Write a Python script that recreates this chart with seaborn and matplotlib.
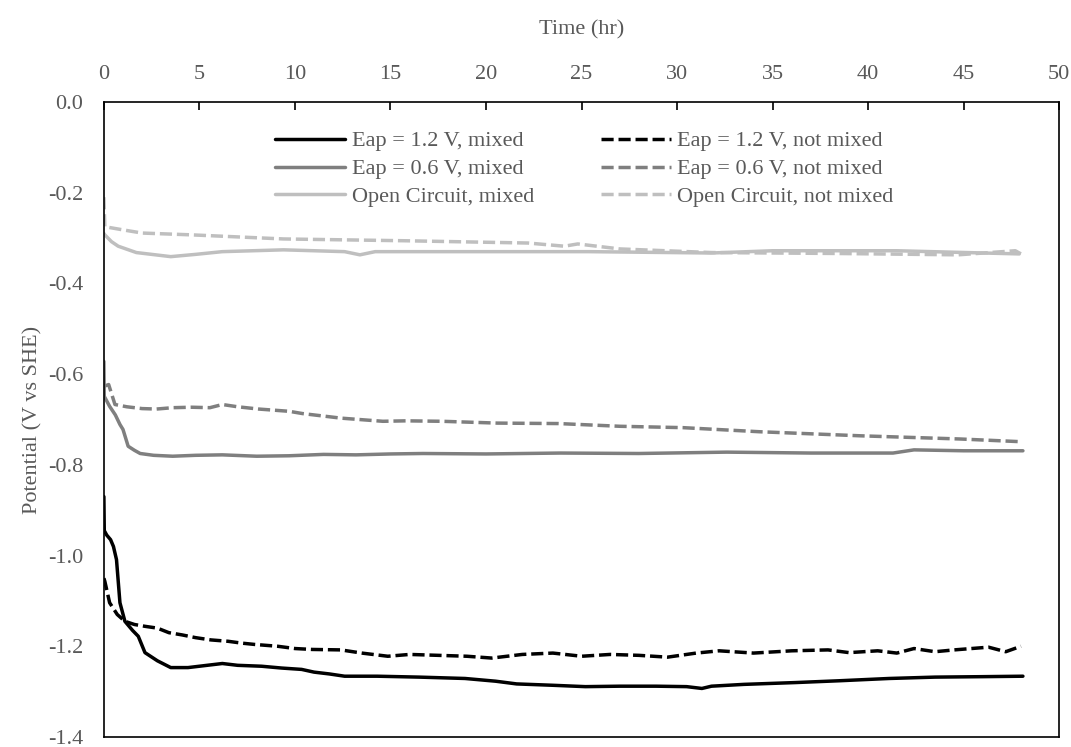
import pandas as pd
import seaborn as sns
import matplotlib.pyplot as plt
from matplotlib.ticker import FormatStrFormatter

# values (time in hr, potential in V vs SHE)
t_12_mixed = [0, 0.02, 0.15, 0.35, 0.5, 0.66, 0.84, 1.1, 1.5, 1.8, 2.15, 2.8, 3.5, 4.4, 5.2, 6.2, 7.0,
              8.25, 9.3, 10.35, 11.0, 11.8, 12.6, 14.3, 16.5, 18.9, 20.5, 21.6, 23.5, 25.2, 27.0, 28.9,
              30.5, 31.3, 31.8, 33.5, 36.2, 38.5, 41.1, 43.5, 46.0, 48.1]
v_12_mixed = [-0.87, -0.945, -0.955, -0.965, -0.98, -1.009, -1.104, -1.145, -1.165, -1.178, -1.214,
              -1.232, -1.247, -1.247, -1.243, -1.238, -1.242, -1.244, -1.248, -1.251, -1.257, -1.261,
              -1.266, -1.266, -1.268, -1.271, -1.277, -1.283, -1.286, -1.289, -1.288, -1.288, -1.289,
              -1.293, -1.288, -1.284, -1.280, -1.276, -1.271, -1.268, -1.267, -1.266]

t_12_not = [0, 0.05, 0.3, 0.7, 1.1, 1.6, 2.15, 2.8, 3.4, 4.1, 4.8, 5.6, 6.5, 7.2, 7.9, 9.1, 10.0, 10.9,
            12.4, 13.5, 14.86, 16.0, 17.5, 19.0, 20.3, 21.9, 23.5, 25.0, 26.5, 28.0, 29.5, 31.0, 32.2,
            34.0, 36.0, 37.9, 39.0, 40.5, 41.5, 42.4, 43.5, 44.5, 46.3, 47.2, 48.0]
v_12_not = [-1.05, -1.057, -1.104, -1.13, -1.145, -1.152, -1.156, -1.16, -1.17, -1.175, -1.181, -1.186,
            -1.189, -1.193, -1.196, -1.2, -1.205, -1.207, -1.208, -1.215, -1.222, -1.218, -1.22, -1.222,
            -1.226, -1.218, -1.215, -1.222, -1.218, -1.22, -1.224, -1.215, -1.21, -1.215, -1.21, -1.208,
            -1.214, -1.21, -1.215, -1.205, -1.212, -1.208, -1.202, -1.212, -1.2]

t_06_mixed = [0, 0.02, 0.3, 0.6, 0.84, 1.0, 1.27, 1.6, 1.9, 2.6, 3.6, 4.8, 6.2, 8.0, 9.7, 11.5, 13.2,
              15.0, 16.7, 20.0, 23.9, 28.0, 32.6, 37.0, 41.3, 42.4, 45.0, 48.1]
v_06_mixed = [-0.572, -0.649, -0.671, -0.69, -0.711, -0.722, -0.759, -0.768, -0.775, -0.779, -0.781,
              -0.779, -0.778, -0.781, -0.78, -0.777, -0.778, -0.776, -0.775, -0.776, -0.774, -0.775,
              -0.772, -0.774, -0.774, -0.767, -0.769, -0.769]

t_06_not = [0, 0.25, 0.58, 1.2, 2.0, 2.75, 3.6, 4.6, 5.55, 6.2, 7.0, 8.1, 9.7, 10.4, 12.4, 14.6, 15.8,
            17.7, 20.6, 23.8, 27.0, 30.3, 34.3, 39.6, 44.8, 48.0]
v_06_not = [-0.627, -0.623, -0.667, -0.672, -0.676, -0.677, -0.674, -0.673, -0.674, -0.667, -0.672,
            -0.677, -0.682, -0.687, -0.697, -0.704, -0.703, -0.704, -0.708, -0.709, -0.715, -0.718,
            -0.727, -0.736, -0.743, -0.749]

t_oc_mixed = [0, 0.05, 0.4, 0.75, 1.7, 3.5, 4.8, 6.2, 9.4, 12.6, 13.4, 14.2, 19.0, 25.4, 31.8, 35.0,
              41.5, 47.9]
v_oc_mixed = [-0.29, -0.293, -0.308, -0.318, -0.332, -0.341, -0.336, -0.330, -0.326, -0.330, -0.337,
              -0.330, -0.330, -0.330, -0.333, -0.328, -0.328, -0.335]

t_oc_not = [0, 0.05, 1.0, 2.0, 4.6, 9.4, 15.8, 22.2, 24.1, 24.8, 27.0, 31.8, 38.3, 44.7, 47.7, 48.0]
v_oc_not = [-0.21, -0.275, -0.282, -0.289, -0.293, -0.302, -0.306, -0.311, -0.318, -0.313, -0.324,
            -0.332, -0.334, -0.337, -0.328, -0.335]

labels = ["Eap = 1.2 V, mixed", "Eap = 0.6 V, mixed", "Open Circuit, mixed",
          "Eap = 1.2 V, not mixed", "Eap = 0.6 V, not mixed", "Open Circuit, not mixed"]
series = [(t_12_mixed, v_12_mixed), (t_06_mixed, v_06_mixed), (t_oc_mixed, v_oc_mixed),
          (t_12_not, v_12_not), (t_06_not, v_06_not), (t_oc_not, v_oc_not)]

frames = []
for lab, (t, v) in zip(labels, series):
    frames.append(pd.DataFrame({"Time": t, "Potential": v, "Series": lab}))
df = pd.concat(frames, ignore_index=True)

palette = {labels[0]: "#000000", labels[1]: "#7f7f7f", labels[2]: "#bfbfbf",
           labels[3]: "#000000", labels[4]: "#7f7f7f", labels[5]: "#bfbfbf"}
dashes = {labels[0]: "", labels[1]: "", labels[2]: "",
          labels[3]: (3.5, 1.4), labels[4]: (3.5, 1.4), labels[5]: (3.5, 1.4)}

sns.set_style("white")
plt.rcParams['font.family'] = ['Liberation Serif', 'DejaVu Serif']
plt.rcParams['axes.unicode_minus'] = False
text_col = "#595959"
fs = 16

fig, ax = plt.subplots(figsize=(10.71, 7.47), dpi=100)
fig.subplots_adjust(left=0.097, right=0.989, top=0.8635, bottom=0.0134)

sns.lineplot(data=df, x="Time", y="Potential", hue="Series", style="Series", hue_order=labels,
             style_order=labels, palette=palette, dashes=dashes, linewidth=2.5, sort=False,
             estimator=None, ax=ax)

ax.set_xlim(0, 50)
ax.set_ylim(-1.4, 0.0)
ax.set_xticks(range(0, 51, 5))
ax.set_yticks([-1.4, -1.2, -1.0, -0.8, -0.6, -0.4, -0.2, 0.0])
ax.yaxis.set_major_formatter(FormatStrFormatter('%.1f'))
ax.xaxis.tick_top()
ax.xaxis.set_label_position('top')
ax.tick_params(axis='both', direction='in', length=6, width=1.2, color='black',
               labelsize=fs, labelcolor=text_col)
ax.tick_params(axis='x', pad=13)
ax.tick_params(axis='y', pad=15)
for s in ax.spines.values():
    s.set_color('black')
    s.set_linewidth(1.2)

ax.set_xlabel("Time (hr)", fontsize=fs, color=text_col, labelpad=22)
ax.set_ylabel("Potential (V vs SHE)", fontsize=fs, color=text_col, labelpad=4)

leg = ax.legend(loc='upper center', bbox_to_anchor=(0.503, 1.0), ncol=2, frameon=False,
                fontsize=fs, handlelength=3.15, columnspacing=3.0, handletextpad=0.3,
                labelspacing=0.33, borderaxespad=0.9)
for txt in leg.get_texts():
    txt.set_color(text_col)
for line in leg.get_lines():
    line.set_linewidth(2.5)

plt.savefig("out.png", dpi=100)
